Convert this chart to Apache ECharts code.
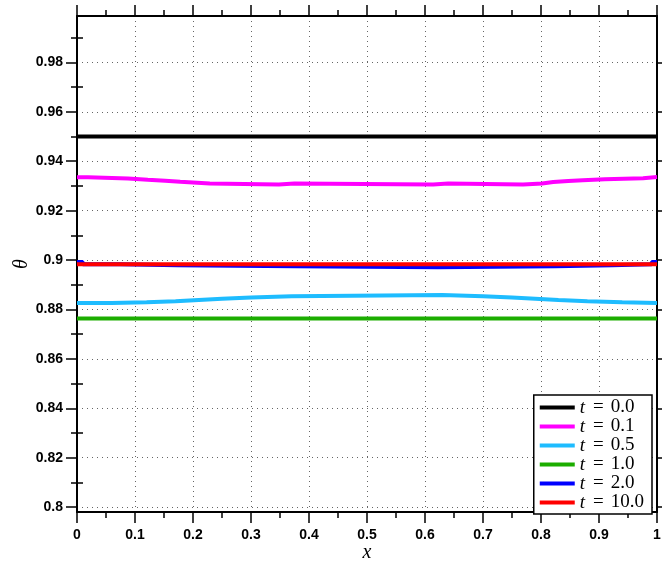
<!DOCTYPE html>
<html>
<head>
<meta charset="utf-8">
<script src="https://cdn.jsdelivr.net/npm/echarts@6/dist/echarts.min.js"></script>
<style>html,body{margin:0;padding:0;background:#fff}#c{width:662px;height:562px}</style>
</head>
<body>
<div id="c"></div>
<script>
// ---- data ----
const seriesNames = ['t = 0.0', 't = 0.1', 't = 0.5', 't = 1.0', 't = 2.0', 't = 10.0'];
const seriesColors = ['#000000', '#ff00ff', '#1ebcff', '#1cad00', '#0000ff', '#ff0000'];

const x_t00 = [0, 1];
const y_t00 = [0.9500, 0.9500];

const x_t01 = [0, 0.019, 0.088, 0.122, 0.152, 0.178, 0.200, 0.229, 0.348, 0.375, 0.614, 0.640, 0.769, 0.802, 0.821, 0.847, 0.872, 0.910, 0.976, 1];
const y_t01 = [0.9335, 0.9330, 0.9325, 0.9321, 0.9317, 0.9314, 0.9310, 0.9306, 0.9310, 0.9306, 0.9310, 0.9306, 0.9310, 0.9316, 0.9320, 0.9323, 0.9327, 0.9331, 0.9336, 0.9336];

const x_t05 = [0, 0.06, 0.12, 0.17, 0.21, 0.25, 0.30, 0.37, 0.63, 0.70, 0.75, 0.79, 0.83, 0.88, 0.94, 1];
const y_t05 = [0.8826, 0.8829, 0.8833, 0.8838, 0.8843, 0.8848, 0.8853, 0.8858, 0.8853, 0.8848, 0.8843, 0.8838, 0.8833, 0.8829, 0.8826, 0.8826];

const x_t10 = [0, 1];
const y_t10 = [0.8763, 0.8763];

const x_t20 = [0, 0.010, 0.074, 0.174, 0.376, 0.622, 0.824, 0.922, 0.991, 1];
const y_t20 = [0.8992, 0.8983, 0.8979, 0.8975, 0.8971, 0.8975, 0.8979, 0.8983, 0.8992, 0.8992];

const x_t100 = [0, 1];
const y_t100 = [0.8983, 0.8983];

const yMajorTicks = [0.80, 0.82, 0.84, 0.86, 0.88, 0.90, 0.92, 0.94, 0.96, 0.98];
const yMinorTicks = [0.81, 0.83, 0.85, 0.87, 0.89, 0.91, 0.93, 0.95, 0.97, 0.99];
const yMin = 0.798, yMax = 0.9988;
const xMin = 0, xMax = 1, xStep = 0.1;

// ---- build ----
const xs = [x_t00, x_t01, x_t05, x_t10, x_t20, x_t100];
const ys = [y_t00, y_t01, y_t05, y_t10, y_t20, y_t100];

const labelFont = {fontFamily: 'Liberation Sans, Arial, sans-serif', fontWeight: 'bold', fontSize: 14, color: '#000'};
const axisLine = {show: true, onZero: false, lineStyle: {color: '#000', width: 2}};
const gridLine = {show: true, lineStyle: {color: '#666', width: 1, type: [1, 4]}};

function xAxisDef(pos, main) {
  return {
    type: 'value', position: pos, min: xMin, max: xMax, interval: xStep,
    axisLine: axisLine,
    axisTick: {show: true, length: 11, lineStyle: {color: '#000', width: 1.5}},
    minorTick: {show: true, splitNumber: 2, length: 6, lineStyle: {color: '#000', width: 1.5}},
    axisLabel: main ? Object.assign({margin: 16, formatter: v => String(+v.toFixed(2))}, labelFont) : {show: false},
    splitLine: main ? gridLine : {show: false},
    name: main ? 'x' : '', nameLocation: 'middle', nameGap: 31, nameMoveOverlap: false,
    nameTextStyle: {fontFamily: 'Liberation Serif, serif', fontStyle: 'italic', fontSize: 20, color: '#000'}
  };
}
function yAxisDef(pos, ticks, len, main, showLine) {
  return {
    type: 'value', position: pos, min: yMin, max: yMax,
    axisLine: showLine ? axisLine : {show: false},
    axisTick: {show: true, length: len, customValues: ticks, lineStyle: {color: '#000', width: 1.5}},
    axisLabel: main ? Object.assign({margin: 14, customValues: ticks, formatter: v => String(+(+v).toFixed(2))}, labelFont) : {show: false},
    splitLine: main ? gridLine : {show: false},
    name: main ? 'θ' : '', nameLocation: 'middle', nameGap: 45, nameRotate: 90, nameMoveOverlap: false,
    nameTextStyle: {fontFamily: 'Liberation Serif, serif', fontStyle: 'italic', fontSize: 20, color: '#000'}
  };
}

const series = seriesNames.map((n, i) => ({
  name: n, type: 'line', xAxisIndex: 0, yAxisIndex: 0,
  step: 'end', symbol: 'none', animation: false,
  lineStyle: {color: seriesColors[i], width: 4},
  itemStyle: {color: seriesColors[i]},
  data: xs[i].map((x, k) => [x, ys[i][k]])
}));

const option = {
  animation: false,
  backgroundColor: '#fff',
  grid: {left: 77, right: 5, top: 16, bottom: 50, containLabel: false, outerBoundsMode: 'none'},
  xAxis: [xAxisDef('bottom', true), xAxisDef('top', false)],
  yAxis: [
    yAxisDef('left', yMajorTicks, 11, true, true),
    yAxisDef('left', yMinorTicks, 6, false, false),
    yAxisDef('right', yMajorTicks, 11, false, true),
    yAxisDef('right', yMinorTicks, 6, false, false)
  ],
  legend: {
    orient: 'vertical', right: 10, top: 395,
    itemWidth: 35, itemHeight: 4, itemGap: 0, icon: 'rect',
    padding: [3, 8, 2, 6],
    borderColor: '#000', borderWidth: 1.5, backgroundColor: '#fff',
    data: seriesNames,
    formatter: name => '{t|t}{e|=}{n|' + name.split('= ')[1] + '}',
    textStyle: {
      lineHeight: 18, padding: [0, 0, 0, 0],
      rich: {
        t: {fontFamily: 'Liberation Serif, serif', fontStyle: 'italic', fontSize: 19, color: '#000', lineHeight: 18},
        e: {fontFamily: 'Liberation Serif, serif', fontSize: 19, color: '#000', padding: [0, 7, 0, 8], lineHeight: 18},
        n: {fontFamily: 'Liberation Serif, serif', fontSize: 19, color: '#000', lineHeight: 18}
      }
    }
  },
  series: series
};

const chart = echarts.init(document.getElementById('c'), null, {renderer: 'canvas'});
chart.setOption(option);
</script>
</body>
</html>
